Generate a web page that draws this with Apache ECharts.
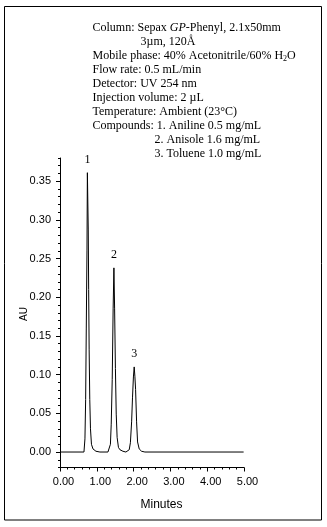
<!DOCTYPE html>
<html>
<head>
<meta charset="utf-8">
<script src="https://cdn.jsdelivr.net/npm/echarts@6/dist/echarts.min.js"></script>
<style>
  html, body { margin: 0; padding: 0; background: #fff; }
  #chart { width: 327px; height: 527px; }
</style>
</head>
<body>
<div id="chart"></div>
<script>
// Chromatogram trace: retention time (minutes) and detector response (AU)
const times = [
  0.000, 0.651, 0.678, 0.697, 0.714, 0.733, 0.744, 0.768, 0.779, 0.792, 0.809, 0.828, 0.855, 0.896, 0.977, 1.085,
  1.303, 1.338, 1.370, 1.392, 1.419, 1.444, 1.465, 1.484, 1.506, 1.528, 1.552, 1.588, 1.628, 1.710, 1.791,
  1.818, 1.881, 1.913, 1.946, 1.970, 1.995, 2.016, 2.035, 2.054, 2.081, 2.108, 2.152, 2.217, 2.307, 4.990
];
const absorbance = [
  0.000, 0.000, 0.017, 0.068, 0.159, 0.261, 0.361, 0.287, 0.210, 0.132, 0.068, 0.030, 0.010, 0.004, 0.001, 0.000,
  0.000, 0.001, 0.010, 0.036, 0.094, 0.185, 0.238, 0.185, 0.108, 0.049, 0.019, 0.006, 0.003, 0.001, 0.000,
  0.000, 0.003, 0.012, 0.039, 0.070, 0.097, 0.110, 0.098, 0.081, 0.039, 0.013, 0.004, 0.001, 0.000, 0.000
];

// Peak numbers, in elution order
const peakNames = ['1', '2', '3'];

// Axis tick labels
const yMajorTicks = [0.00, 0.05, 0.10, 0.15, 0.20, 0.25, 0.30, 0.35];
const xTicks = [0, 1, 2, 3, 4, 5];

// Method conditions
const headerLines = [
  'Column: Sepax {it|GP}-Phenyl, 2.1x50mm',
  '3µm, 120Å',
  'Mobile phase: 40% Acetonitrile/60% H{sub|2}O',
  'Flow rate: 0.5 mL/min',
  'Detector: UV 254 nm',
  'Injection volume: 2 µL',
  'Temperature: Ambient (23°C)',
  'Compounds: 1. Aniline 0.5 mg/mL',
  '2. Anisole 1.6 mg/mL',
  '3. Toluene 1.0 mg/mL'
];
const headerIndent = [0, 48, 0, 0, 0, 0, 0, 0, 62, 62];

const trace = times.map((t, i) => [t, absorbance[i]]);

// locate the apex of each peak in the trace
const apexes = [];
for (let i = 1; i < absorbance.length - 1; i++) {
  if (absorbance[i] > absorbance[i - 1] && absorbance[i] >= absorbance[i + 1] && absorbance[i] > 0.05) {
    apexes.push(i);
  }
}

const serif = '"Liberation Serif", "Times New Roman", serif';
const sans = '"Liberation Sans", Arial, sans-serif';

const chart = echarts.init(document.getElementById('chart'), null, { renderer: 'canvas' });

const graphics = [
  {
    type: 'rect',
    shape: { x: 4.5, y: 6.5, width: 317, height: 513.5 },
    style: { fill: null, stroke: '#000', lineWidth: 1 },
    silent: true
  },
  {
    type: 'text',
    x: 161.5, y: 505,
    style: { text: 'Minutes', font: '12px ' + sans, fill: '#000', align: 'center', verticalAlign: 'middle' }
  },
  {
    type: 'text',
    x: 24, y: 314,
    rotation: Math.PI / 2,
    style: { text: 'AU', font: '10px ' + sans, fill: '#000', align: 'center', verticalAlign: 'middle' }
  }
];
headerLines.forEach((line, i) => {
  graphics.push({
    type: 'text',
    x: 92.5 + headerIndent[i],
    y: 28 + i * 14,
    style: {
      text: line,
      font: '12px ' + serif,
      fill: '#000',
      verticalAlign: 'middle',
      rich: {
        it: { fontFamily: serif, fontSize: 12, fontStyle: 'italic', fill: '#000' },
        sub: { fontFamily: serif, fontSize: 8, fill: '#000', padding: [6, 0, 0, 0] }
      }
    }
  });
});

chart.setOption({
  animation: false,
  backgroundColor: '#fff',
  grid: { left: 60, right: 83, top: 158, bottom: 59.5, containLabel: false },
  xAxis: {
    type: 'value',
    min: 0, max: 5, interval: 1,
    axisLine: { show: true, onZero: false, lineStyle: { color: '#000', width: 1 } },
    axisTick: { show: true, length: 4, lineStyle: { color: '#000' } },
    minorTick: { show: true, splitNumber: 5, length: 2, lineStyle: { color: '#000' } },
    splitLine: { show: false },
    axisLabel: {
      color: '#000', fontFamily: sans, fontSize: 11, margin: 9,
      padding: [0, 0, 0, 7],
      customValues: xTicks,
      formatter: v => v.toFixed(2)
    }
  },
  yAxis: [
    {
      type: 'value',
      min: -0.02, max: 0.38,
      axisLine: { show: true, onZero: false, lineStyle: { color: '#000', width: 1 } },
      axisTick: { show: true, length: 4, customValues: yMajorTicks, lineStyle: { color: '#000' } },
      splitLine: { show: false },
      axisLabel: {
        color: '#000', fontFamily: sans, fontSize: 11, margin: 9,
        customValues: yMajorTicks,
        formatter: v => v.toFixed(2)
      }
    },
    {
      type: 'value',
      min: -0.02, max: 0.38, interval: 0.01,
      position: 'left',
      axisLine: { show: false, onZero: false },
      axisTick: { show: true, length: 2, lineStyle: { color: '#000' } },
      axisLabel: { show: false },
      splitLine: { show: false }
    }
  ],
  series: [{
    type: 'line',
    data: trace,
    xAxisIndex: 0,
    yAxisIndex: 0,
    symbol: 'none',
    lineStyle: { color: '#000', width: 1 },
    markPoint: {
      symbol: 'circle',
      symbolSize: 0,
      silent: true,
      label: {
        show: true,
        position: 'top',
        distance: 7,
        color: '#000',
        fontFamily: serif,
        fontSize: 12,
        formatter: p => p.name
      },
      data: apexes.map((idx, k) => ({ name: peakNames[k], coord: [times[idx], absorbance[idx]] }))
    }
  }],
  graphic: graphics
});
</script>
</body>
</html>
